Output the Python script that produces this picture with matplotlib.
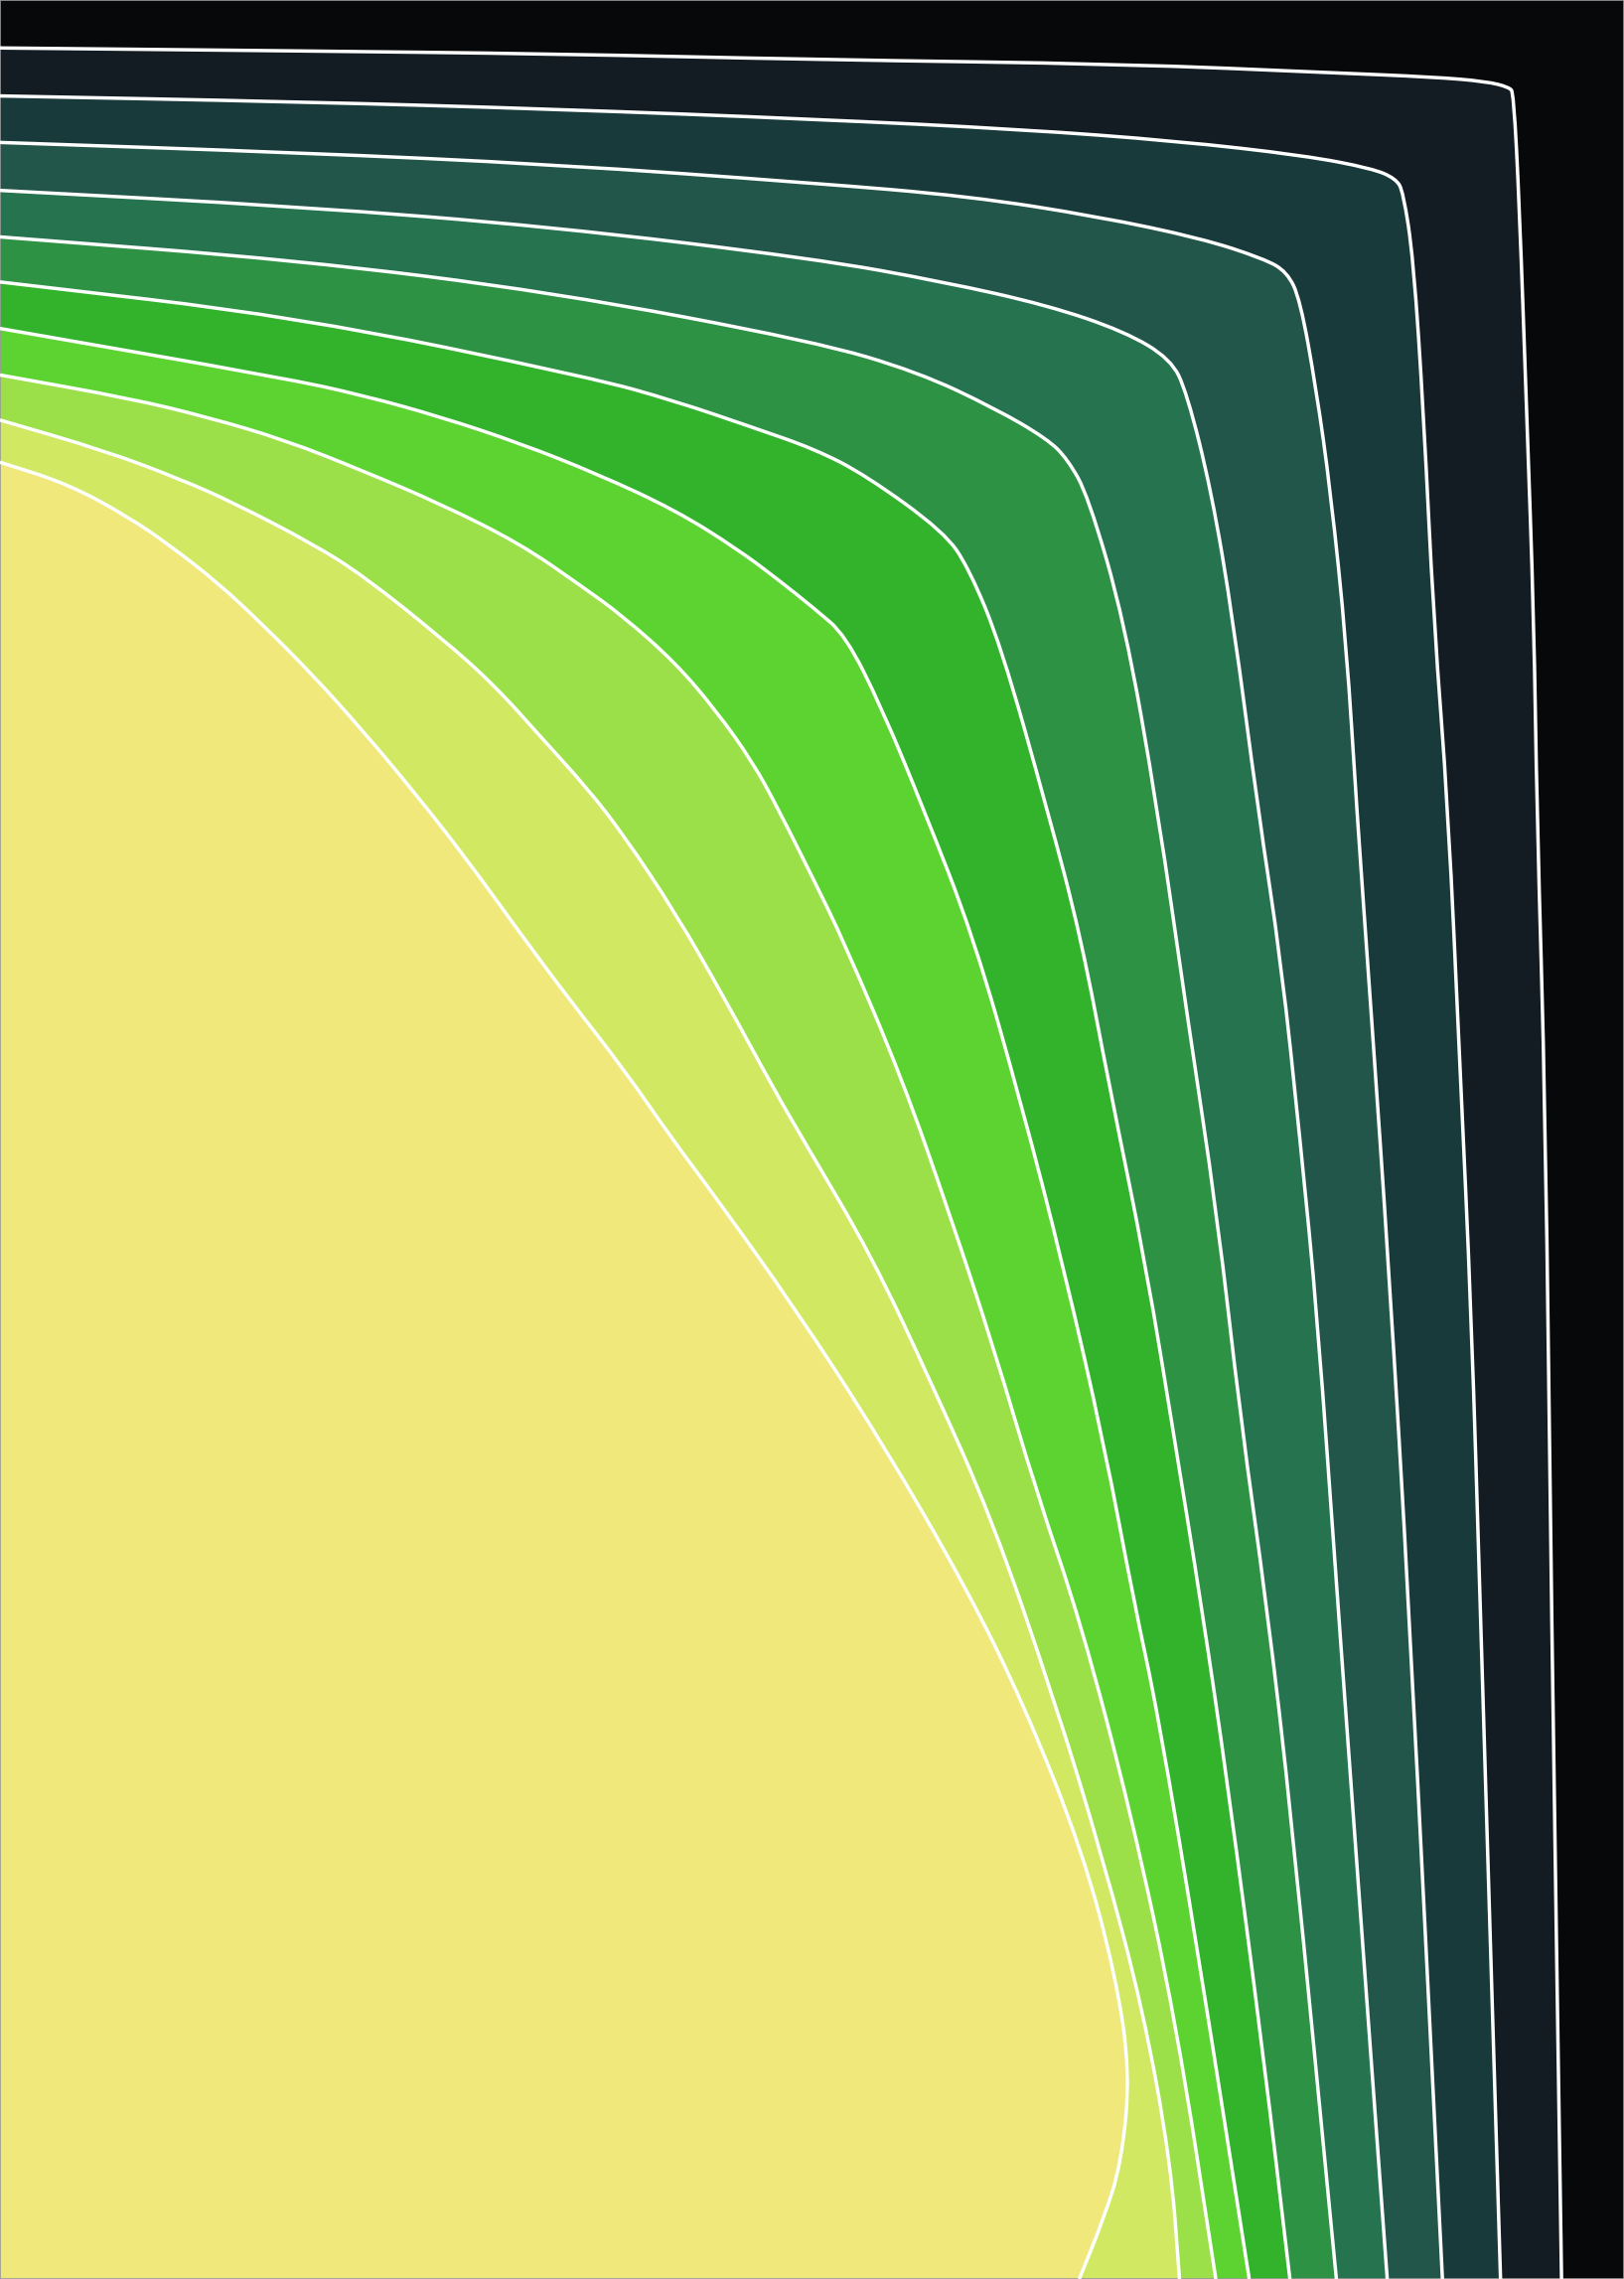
import matplotlib.pyplot as plt
from matplotlib.path import Path
from matplotlib.patches import PathPatch

# picture units: x 0..1118, y 0..1568 (y grows downward)
W, H = 1118, 1568

background = "#06080a"
band_colors = ["#121c22", "#193a3b", "#22564a", "#267350", "#2d9244",
               "#33b22c", "#5dd331", "#9be048", "#d1e862", "#f1e87b"]

# boundary curves, outermost first: (x, y) points
curve1_x = [0, 205, 380, 561, 774, 916, 987, 1023, 1039, 1042, 1046, 1051, 1056, 1058, 1064, 1068, 1075]
curve1_y = [33, 35, 37, 41, 44, 50, 53, 56, 60, 64, 142, 284, 427, 557, 766, 1104, 1568]
curve2_x = [0, 205, 380, 561, 703, 810, 898, 945, 961, 966, 973, 980, 987, 997, 1005, 1013, 1019, 1033]
curve2_y = [66, 70, 75, 82, 89, 97, 107, 116, 123, 132, 178, 284, 427, 557, 732, 906, 1104, 1568]
curve3_x = [0, 205, 380, 561, 667, 756, 827, 870, 886, 895, 906, 916, 927, 934, 944, 956, 970, 993]
curve3_y = [98, 105, 113, 126, 135, 149, 164, 178, 187, 206, 267, 338, 444, 557, 697, 871, 1104, 1568]
curve4_x = [0, 205, 380, 561, 650, 721, 774, 806, 817, 834, 849, 866, 882, 895, 907, 921, 955]
curve4_y = [131, 142, 156, 178, 194, 210, 228, 247, 270, 338, 427, 557, 662, 784, 906, 1104, 1568]
curve5_x = [0, 205, 380, 561, 632, 685, 721, 735, 749, 774, 797, 817, 838, 854, 872, 889, 920]
curve5_y = [163, 179, 201, 235, 256, 281, 302, 316, 341, 427, 557, 697, 836, 976, 1104, 1249, 1568]
curve6_x = [0, 205, 408, 465, 518, 561, 596, 650, 667, 689, 721, 744, 764, 789, 809, 827, 845, 870, 888]
curve6_y = [194, 218, 260, 276, 294, 309, 327, 366, 391, 444, 557, 644, 749, 871, 993, 1104, 1226, 1416, 1568]
curve7_x = [0, 195, 250, 304, 358, 411, 465, 508, 536, 561, 582, 607, 636, 670, 703, 732, 760, 781, 797, 825, 860]
curve7_y = [226, 260, 272, 287, 305, 326, 351, 378, 399, 419, 437, 487, 557, 644, 759, 871, 993, 1104, 1178, 1345, 1568]
curve8_x = [0, 89, 143, 197, 250, 304, 358, 400, 429, 465, 493, 518, 536, 561, 581, 621, 654, 684, 714, 744, 779, 810, 837]
curve8_y = [258, 274, 287, 303, 324, 347, 374, 403, 424, 456, 489, 524, 557, 607, 648, 742, 836, 927, 1028, 1116, 1249, 1393, 1568]
curve9_x = [0, 72, 125, 161, 215, 250, 304, 340, 375, 404, 429, 465, 500, 532, 554, 600, 641, 683, 727, 759, 787, 806, 812]
curve9_y = [289, 310, 330, 346, 374, 396, 439, 471, 510, 542, 574, 628, 689, 748, 786, 864, 951, 1045, 1173, 1278, 1383, 1488, 1568]
curve10_x = [0, 47, 89, 118, 150, 179, 215, 250, 286, 322, 358, 393, 429, 463, 490, 548, 607, 665, 705, 745, 768, 778, 772, 760, 743]
curve10_y = [318, 333, 356, 376, 401, 428, 464, 503, 546, 592, 642, 689, 735, 784, 820, 901, 992, 1092, 1173, 1273, 1359, 1426, 1488, 1526, 1568]

curves = [(curve1_x, curve1_y), (curve2_x, curve2_y), (curve3_x, curve3_y),
          (curve4_x, curve4_y), (curve5_x, curve5_y), (curve6_x, curve6_y),
          (curve7_x, curve7_y), (curve8_x, curve8_y), (curve9_x, curve9_y),
          (curve10_x, curve10_y)]


def smooth_path(xs, ys):
    # read points used as quadratic bezier control points (curve goes through midpoints)
    pts = list(zip(xs, ys))
    verts = [pts[0]]
    codes = [Path.MOVETO]
    mid = ((pts[0][0] + pts[1][0]) / 2, (pts[0][1] + pts[1][1]) / 2)
    verts.append(mid)
    codes.append(Path.LINETO)
    for i in range(1, len(pts) - 1):
        nxt = ((pts[i][0] + pts[i + 1][0]) / 2, (pts[i][1] + pts[i + 1][1]) / 2)
        verts += [pts[i], nxt]
        codes += [Path.CURVE3, Path.CURVE3]
    verts.append(pts[-1])
    codes.append(Path.LINETO)
    return verts, codes


fig = plt.figure(figsize=(16.35, 22.94), dpi=100)
ax = fig.add_axes([0, 0, 1, 1])
ax.set_facecolor(background)

for (xs, ys), color in zip(curves, band_colors):
    verts, codes = smooth_path(xs, ys)
    # close each region through the bottom-left corner
    fverts = verts + [(xs[-1], H + 5), (-5, H + 5), (-5, ys[0]), (0, 0)]
    fcodes = codes + [Path.LINETO, Path.LINETO, Path.LINETO, Path.CLOSEPOLY]
    ax.add_patch(PathPatch(Path(fverts, fcodes), facecolor=color, edgecolor="none", zorder=2))
    ax.add_patch(PathPatch(Path(verts, codes), facecolor="none", edgecolor="white",
                           linewidth=2.5, zorder=3))

ax.set_xlim(0, W)
ax.set_ylim(H, 0)
ax.set_xticks([])
ax.set_yticks([])
for s in ax.spines.values():
    s.set_color("#9a9a9a")
    s.set_linewidth(1.2)

plt.savefig("out.png", dpi=100)
